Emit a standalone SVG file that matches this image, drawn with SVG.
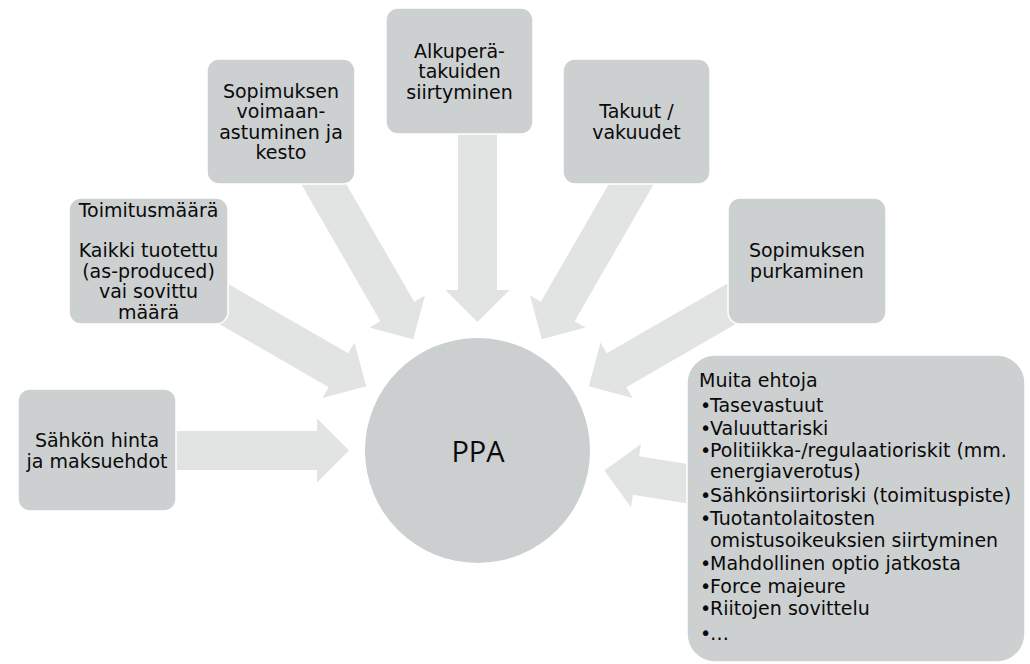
<svg xmlns="http://www.w3.org/2000/svg" width="1030" height="664" viewBox="0 0 1030 664">
  <style>
    .box { fill: #cdd0d1; stroke: #ffffff; stroke-width: 1.5; }
    .hub { fill: #cbcfd0; }
    .arrow { fill: #e2e3e3; }
    .t { font-family: "DejaVu Sans", Verdana, sans-serif; font-size: 19px; fill: #0a0a0a; }
    .c { text-anchor: middle; }
    .hubt { font-family: "Open Sans", "Noto Sans", sans-serif; font-size: 29px; fill: #0a0a0a; text-anchor: middle; }
  </style>
  <rect width="1030" height="664" fill="#ffffff"/>

  <!-- block arrows pointing at the hub; tip at local origin, shaft along -x -->
  <g id="connectors">
    <polygon class="arrow" transform="translate(349,450.5) rotate(0)" points="-178,-19.5 -32,-19.5 -32,-32 0,0 -32,32 -32,19.5 -178,19.5"/>
    <polygon class="arrow" transform="translate(366.2,386.25) rotate(30)" points="-180,-19.5 -32,-19.5 -32,-32 0,0 -32,32 -32,19.5 -180,19.5"/>
    <polygon class="arrow" transform="translate(413.25,339.2) rotate(60)" points="-195,-19.5 -32,-19.5 -32,-32 0,0 -32,32 -32,19.5 -195,19.5"/>
    <polygon class="arrow" transform="translate(477.5,322) rotate(90)" points="-195,-19.5 -32,-19.5 -32,-32 0,0 -32,32 -32,19.5 -195,19.5"/>
    <polygon class="arrow" transform="translate(541.75,339.2) rotate(120)" points="-195,-19.5 -32,-19.5 -32,-32 0,0 -32,32 -32,19.5 -195,19.5"/>
    <polygon class="arrow" transform="translate(588.8,386.25) rotate(150)" points="-180,-19.5 -32,-19.5 -32,-32 0,0 -32,32 -32,19.5 -180,19.5"/>
    <polygon class="arrow" transform="translate(604.4,470.6) rotate(189)" points="-100,-19.5 -32,-19.5 -32,-32 0,0 -32,32 -32,19.5 -100,19.5"/>
  </g>

  <g id="hub">
    <circle class="hub" cx="477.5" cy="450.5" r="112.5"/>
    <text class="hubt" x="478" y="462">PPA</text>
  </g>

  <g id="price">
    <rect class="box" x="18" y="389" width="158" height="122" rx="12"/>
    <text class="t c" x="97" y="447">Sähkön hinta</text>
    <text class="t c" x="97" y="468">ja maksuehdot</text>
  </g>

  <g id="volume">
    <rect class="box" x="69" y="198" width="159" height="126" rx="12"/>
    <text class="t c" x="148.5" y="217">Toimitusmäärä</text>
    <text class="t c" x="148.5" y="257">Kaikki tuotettu</text>
    <text class="t c" x="148.5" y="277.5">(as-produced)</text>
    <text class="t c" x="148.5" y="298">vai sovittu</text>
    <text class="t c" x="148.5" y="318.5">määrä</text>
  </g>

  <g id="term">
    <rect class="box" x="207" y="59" width="148" height="125" rx="12"/>
    <text class="t c" x="281" y="97.5">Sopimuksen</text>
    <text class="t c" x="281" y="118">voimaan-</text>
    <text class="t c" x="281" y="138.5">astuminen ja</text>
    <text class="t c" x="281" y="159">kesto</text>
  </g>

  <g id="origin">
    <rect class="box" x="386" y="8" width="147" height="126" rx="12"/>
    <text class="t c" x="459.5" y="57.5">Alkuperä-</text>
    <text class="t c" x="459.5" y="78">takuiden</text>
    <text class="t c" x="459.5" y="98.5">siirtyminen</text>
  </g>

  <g id="guarantees">
    <rect class="box" x="563" y="59" width="147" height="125" rx="12"/>
    <text class="t c" x="636.5" y="118">Takuut /</text>
    <text class="t c" x="636.5" y="139">vakuudet</text>
  </g>

  <g id="termination">
    <rect class="box" x="728" y="198" width="158" height="126" rx="12"/>
    <text class="t c" x="807" y="257">Sopimuksen</text>
    <text class="t c" x="807" y="277.5">purkaminen</text>
  </g>

  <g id="other-terms">
    <rect class="box" x="687" y="355" width="338" height="307" rx="28"/>
    <text class="t" x="699" y="387">Muita ehtoja</text>
    <text class="t" y="412"><tspan x="700">•</tspan><tspan x="710">Tasevastuut</tspan></text>
    <text class="t" y="435"><tspan x="700">•</tspan><tspan x="710">Valuuttariski</tspan></text>
    <text class="t" y="457"><tspan x="700">•</tspan><tspan x="710">Politiikka-/regulaatioriskit (mm.</tspan></text>
    <text class="t" x="710" y="478">energiaverotus)</text>
    <text class="t" y="502"><tspan x="700">•</tspan><tspan x="710">Sähkönsiirtoriski (toimituspiste)</tspan></text>
    <text class="t" y="525"><tspan x="700">•</tspan><tspan x="710">Tuotantolaitosten</tspan></text>
    <text class="t" x="710" y="547">omistusoikeuksien siirtyminen</text>
    <text class="t" y="570"><tspan x="700">•</tspan><tspan x="710">Mahdollinen optio jatkosta</tspan></text>
    <text class="t" y="593"><tspan x="700">•</tspan><tspan x="710">Force majeure</tspan></text>
    <text class="t" y="615"><tspan x="700">•</tspan><tspan x="710">Riitojen sovittelu</tspan></text>
    <text class="t" y="640"><tspan x="700">•</tspan><tspan x="710">…</tspan></text>
  </g>
</svg>
